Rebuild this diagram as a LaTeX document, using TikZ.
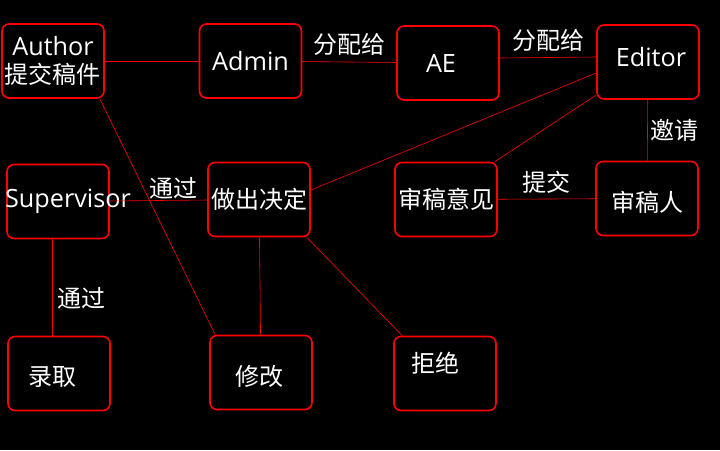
\documentclass[tikz,border=0pt]{standalone}
\usepackage{fontspec}
\setmainfont{Open Sans}[Scale=1.05]
\newfontfamily\cjk{Noto Sans CJK SC}
\usetikzlibrary{calc}

\begin{document}
\begin{tikzpicture}[x=1pt,y=-1pt,
    font=\fontsize{24}{28}\selectfont,
    box/.style={draw=red, line width=1.6pt, rounded corners=7pt,
        minimum width=102pt, minimum height=74pt, inner sep=0pt, text=white, align=center},
    link/.style={draw=red, line width=0.6pt},
    lab/.style={text=white, inner sep=1pt}]
                \def\assign{{\cjk 分配给}}
                \def\pass{{\cjk 通过}}
                \fill[black] (0,0) rectangle (720,450);
                \useasboundingbox (0,0) rectangle (720,450);
                % boxes
                \node[box] (author) at (53,61) {Author\\[0pt]{\cjk 提交稿件}};
                \node[box] (admin) at (250.5,61) {Admin};
                \node[box, label={[text=white, xshift=-7pt]center:AE}] (ae) at (448,63) {};
                \node[box, label={[text=white, xshift=3pt, yshift=5pt]center:Editor}] (editor) at (648,62) {};
                \node[box, label={[text=white, xshift=10pt]center:Supervisor}] (supervisor) at (58,201.5) {};
                \node[box] (decide) at (259,199.5) {\cjk 做出决定};
                \node[box] (opinion) at (446,199.5) {\cjk 审稿意见};
                \node[box, label={[text=white, yshift=-4pt]center:{\cjk 审稿人}}] (reviewer) at (647,198.5) {};
                \node[box, label={[text=white, xshift=-7pt, yshift=-3pt]center:{\cjk 录取}}] (accept) at (59,373.5) {};
                \node[box, label={[text=white, xshift=-2pt, yshift=-4pt]center:{\cjk 修改}}] (revise) at (261,372.5) {};
                \node[box, label={[text=white, xshift=-10pt, yshift=10pt]center:{\cjk 拒绝}}] (reject) at (445,373.5) {};
                % links
                \draw[link] (author) -- (admin);
                \draw[link] (admin) -- node[lab, above=5pt] {\assign} (ae);
                \draw[link] ([yshift=5pt]ae.east) -- node[lab, above=5pt] {\assign} ([yshift=5pt]editor.west);
                \draw[link] (editor) -- node[lab, right=2pt] {\cjk 邀请} (reviewer);
                \draw[link] (opinion) -- node[lab, above=4pt] {\cjk 提交} (reviewer);
                \draw[link] ([yshift=-11pt]editor.west) -- ([yshift=9.5pt]decide.east);
                \draw[link] ([yshift=-33pt]editor.west) -- ([xshift=-3pt]opinion.north east);
                \draw[link] ([xshift=-5pt]author.south east) -- ([xshift=6pt]revise.north west);
                \draw[link] (supervisor) -- node[lab, above=0pt, xshift=15pt] {\pass} (decide);
                \draw[link] ([xshift=-6pt]supervisor.south) -- node[lab, right=4pt, yshift=-11pt] {\pass} ([xshift=-7pt]accept.north);
                \draw[link] (decide) -- (revise);
                \draw[link] ([xshift=-4pt]decide.south east) -- ([xshift=9pt]reject.north west);
                % \draw[link] (decide) -- (accept);
\end{tikzpicture}
\end{document}
